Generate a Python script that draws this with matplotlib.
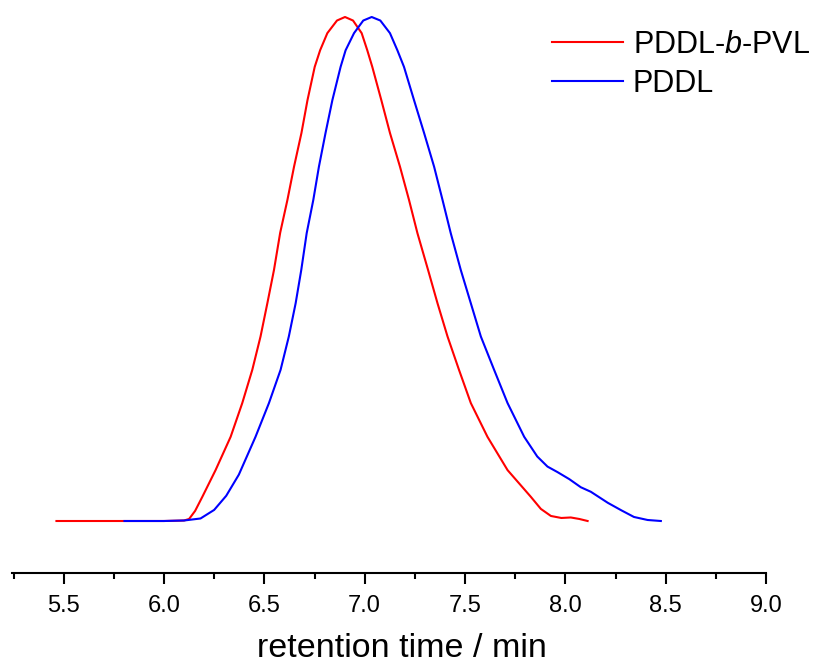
import matplotlib
matplotlib.use("Agg")
import matplotlib.pyplot as plt
from matplotlib.ticker import MultipleLocator

plt.rcParams['font.family'] = ['Liberation Sans', 'DejaVu Sans']
plt.rcParams['mathtext.fontset'] = 'custom'
plt.rcParams['mathtext.rm'] = 'Liberation Sans'
plt.rcParams['mathtext.it'] = 'Liberation Sans:italic'

# PDDL-b-PVL (red)
red_x = [5.464, 6.0, 6.10, 6.125, 6.155, 6.191, 6.257, 6.332, 6.390, 6.440, 6.481, 6.515,
         6.548, 6.579, 6.615, 6.648, 6.685, 6.715, 6.751, 6.778, 6.814, 6.862, 6.902, 6.942,
         6.985, 7.013, 7.038, 7.083, 7.126, 7.176, 7.221, 7.263, 7.316, 7.363, 7.413, 7.470,
         7.529, 7.612, 7.712, 7.828, 7.878, 7.928, 7.98, 8.027, 8.07, 8.111]
red_y = [0.0, 0.0, 0.001, 0.004, 0.020, 0.048, 0.101, 0.167, 0.234, 0.300, 0.366, 0.432,
         0.498, 0.572, 0.637, 0.703, 0.770, 0.835, 0.901, 0.934, 0.968, 0.993, 1.0, 0.993,
         0.968, 0.934, 0.901, 0.835, 0.770, 0.703, 0.637, 0.571, 0.498, 0.432, 0.366, 0.300,
         0.234, 0.167, 0.101, 0.048, 0.024, 0.010, 0.006, 0.007, 0.004, 0.0]

# PDDL (blue)
blue_x = [5.803, 6.0, 6.10, 6.182, 6.25, 6.31, 6.373, 6.456, 6.523, 6.581, 6.622, 6.656,
          6.684, 6.711, 6.744, 6.772, 6.805, 6.839, 6.880, 6.905, 6.947, 6.993, 7.035, 7.078,
          7.126, 7.163, 7.196, 7.246, 7.296, 7.346, 7.388, 7.429, 7.479, 7.529, 7.579, 7.645,
          7.712, 7.795, 7.86, 7.911, 7.961, 8.02, 8.077, 8.127, 8.212, 8.28, 8.342, 8.41, 8.476]
blue_y = [0.0, 0.0, 0.001, 0.005, 0.022, 0.050, 0.092, 0.167, 0.234, 0.300, 0.366, 0.432,
          0.498, 0.571, 0.637, 0.703, 0.770, 0.835, 0.901, 0.934, 0.968, 0.993, 1.0, 0.993,
          0.968, 0.934, 0.901, 0.835, 0.770, 0.703, 0.637, 0.571, 0.498, 0.432, 0.366, 0.300,
          0.234, 0.167, 0.128, 0.108, 0.097, 0.083, 0.067, 0.058, 0.036, 0.021, 0.008, 0.002, 0.0]

labels = ["PDDL-$b$-PVL", "PDDL"]
xticks = [5.5, 6.0, 6.5, 7.0, 7.5, 8.0, 8.5, 9.0]

fig = plt.figure(figsize=(8.19, 6.66), dpi=100)
ax = fig.add_axes([11.5 / 819, 1 - 573 / 666, (766 - 11.5) / 819, 573 / 666])

ax.plot(red_x, red_y, color='#ff0000', lw=1.5, label=labels[0])
ax.plot(blue_x, blue_y, color='#0000ff', lw=1.5, label=labels[1])

ax.set_xlim(5.24, 9.0)
ax.set_ylim(-52 / 504, 1 + 17 / 504)

for s in ['left', 'right', 'top']:
    ax.spines[s].set_visible(False)
ax.spines['bottom'].set_linewidth(1.5)
ax.set_yticks([])
ax.set_xticks(xticks)
ax.set_xticklabels([f"{v:.1f}" for v in xticks])
ax.xaxis.set_minor_locator(MultipleLocator(0.25))
ax.tick_params(axis='x', which='major', direction='out', length=8, width=1.5,
               labelsize=17, pad=8)
ax.tick_params(axis='x', which='minor', direction='out', length=4, width=1.5)
ax.set_xlabel("retention time / min", fontsize=24.5, va='baseline')
ax.xaxis.set_label_coords((402 - 11.5) / 754.5, -(657 - 573) / 573)

leg = ax.legend(loc='upper left', bbox_to_anchor=(552 / 819, 1 - 30 / 666),
                bbox_transform=fig.transFigure, frameon=False, fontsize=22,
                handlelength=2.32, handletextpad=0.33, labelspacing=0.29,
                borderpad=0, borderaxespad=0)

fig.savefig("out.png", dpi=100)
